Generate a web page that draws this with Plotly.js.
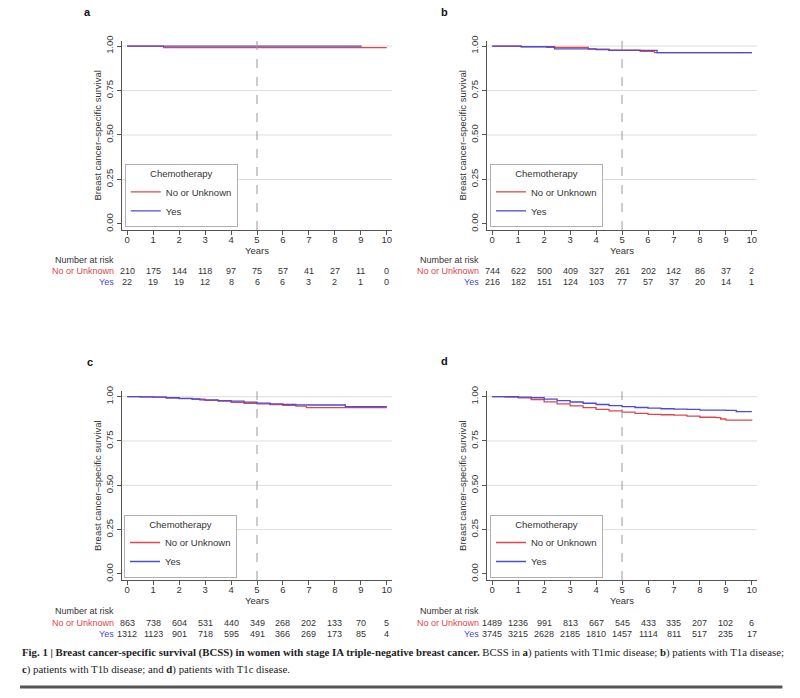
<!DOCTYPE html>
<html>
<head>
<meta charset="utf-8">
<script src="https://cdn.plot.ly/plotly-3.0.1.min.js"></script>
<style>html,body{margin:0;padding:0;background:#fff;}#chart{width:800px;height:698px;}</style>
</head>
<body>
<div id="chart"></div>
<script>
// ---- data ----
const years = [0,1,2,3,4,5,6,7,8,9,10];
const groupNames = ["No or Unknown", "Yes"];

// Kaplan-Meier curves (time, survival)
const aNoT  = [0, 1.4, 10.0];
const aNoS  = [1.0, 0.991, 0.991];
const aYesT = [0, 9.03];
const aYesS = [1.0, 1.0];

const bNoT  = [0, 1.1, 2.1, 3.7, 4.5, 5.7, 6.25, 10.0];
const bNoS  = [1.0, 0.997, 0.992, 0.983, 0.977, 0.970, 0.963, 0.963];
const bYesT = [0, 1.12, 2.4, 4.0, 4.5, 6.35, 10.0];
const bYesS = [1.0, 0.996, 0.984, 0.980, 0.976, 0.963, 0.963];

const cNoT  = [0, 0.5, 1.0, 1.5, 2.0, 2.5, 3.0, 3.5, 4.0, 4.5, 5.0, 5.5, 6.0, 6.5, 6.9, 10.0];
const cNoS  = [1.0, 0.999, 0.997, 0.993, 0.989, 0.986, 0.979, 0.975, 0.968, 0.963, 0.959, 0.955, 0.951, 0.947, 0.938, 0.938];
const cYesT = [0, 0.5, 1.0, 1.5, 2.0, 2.5, 2.8, 3.5, 4.0, 4.5, 5.0, 5.5, 6.0, 6.5, 7.0, 8.4, 10.0];
const cYesS = [1.0, 0.999, 0.997, 0.994, 0.990, 0.987, 0.982, 0.978, 0.975, 0.969, 0.964, 0.960, 0.957, 0.954, 0.953, 0.944, 0.944];

const dNoT  = [0, 0.5, 1.0, 1.5, 2.0, 2.5, 3.0, 3.5, 4.0, 4.5, 5.0, 5.5, 6.0, 6.5, 7.0, 7.5, 8.0, 8.6, 8.8, 9.0, 10.0];
const dNoS  = [1.0, 0.998, 0.993, 0.983, 0.971, 0.960, 0.948, 0.938, 0.928, 0.920, 0.913, 0.906, 0.900, 0.898, 0.896, 0.890, 0.884, 0.882, 0.874, 0.868, 0.867];
const dYesT = [0, 0.5, 1.0, 1.5, 2.0, 2.5, 3.0, 3.5, 4.0, 4.5, 5.0, 5.5, 6.0, 6.5, 7.0, 7.5, 8.0, 9.0, 9.4, 10.0];
const dYesS = [1.0, 1.0, 0.998, 0.994, 0.986, 0.978, 0.970, 0.963, 0.956, 0.950, 0.944, 0.939, 0.935, 0.932, 0.930, 0.928, 0.924, 0.923, 0.916, 0.916];

// Number at risk
const aRiskNo  = [210,175,144,118,97,75,57,41,27,11,0];
const aRiskYes = [22,19,19,12,8,6,6,3,2,1,0];
const bRiskNo  = [744,622,500,409,327,261,202,142,86,37,2];
const bRiskYes = [216,182,151,124,103,77,57,37,20,14,1];
const cRiskNo  = [863,738,604,531,440,349,268,202,133,70,5];
const cRiskYes = [1312,1123,901,718,595,491,366,269,173,85,4];
const dRiskNo  = [1489,1236,991,813,667,545,433,335,207,102,6];
const dRiskYes = [3745,3215,2628,2185,1810,1457,1114,811,517,235,17];

const yTicks = [0, 0.25, 0.5, 0.75, 1.0];
const gridVals = [0.25, 0.5, 0.75, 1.0];

// ---- styling ----
const RED = "#e0474c", BLUE = "#4b4bd4";
const FONT = "Liberation Sans, Arial, sans-serif";
const TXT = "#333333";
const FS = 9.5;
const TFS = 9;

const panels = [
  {lab:"a", ax:"x",  ay:"y",  lg:"legend",  noT:aNoT, noS:aNoS, yT:aYesT, yS:aYesS, rNo:aRiskNo, rYes:aRiskYes,
   xd:[0.1525,0.49], yd:[0.6705,0.9417], lgx:0.156, lgy:0.6748, rows:[0.6275,0.6113,0.5956], labPos:[0.1088,0.9828]},
  {lab:"b", ax:"x2", ay:"y2", lg:"legend2", noT:bNoT, noS:bNoS, yT:bYesT, yS:bYesS, rNo:bRiskNo, rYes:bRiskYes,
   xd:[0.6088,0.9463], yd:[0.6705,0.9417], lgx:0.6125, lgy:0.6748, rows:[0.6275,0.6113,0.5956], labPos:[0.556,0.9828]},
  {lab:"c", ax:"x3", ay:"y3", lg:"legend3", noT:cNoT, noS:cNoS, yT:cYesT, yS:cYesS, rNo:cRiskNo, rYes:cRiskYes,
   xd:[0.1525,0.49], yd:[0.1691,0.4393], lgx:0.155, lgy:0.1724, rows:[0.1240,0.1078,0.0921], labPos:[0.1125,0.4814]},
  {lab:"d", ax:"x4", ay:"y4", lg:"legend4", noT:dNoT, noS:dNoS, yT:dYesT, yS:dYesS, rNo:dRiskNo, rYes:dRiskYes,
   xd:[0.6088,0.9463], yd:[0.1691,0.4393], lgx:0.6125, lgy:0.1724, rows:[0.1240,0.1078,0.0921], labPos:[0.555,0.4828]}
];

const traces = [];
const layout = {
  width: 800, height: 698,
  margin: {l:0, r:0, t:0, b:0},
  paper_bgcolor: "#fff", plot_bgcolor: "#fff",
  font: {family: FONT, size: FS, color: TXT},
  showlegend: true,
  annotations: [], shapes: []
};

panels.forEach((p, i) => {
  const n = i === 0 ? "" : String(i + 1);
  traces.push({
    type: "scatter", mode: "lines", x: p.noT, y: p.noS, name: groupNames[0],
    line: {color: RED, width: 1.3, shape: "hv"}, xaxis: p.ax, yaxis: p.ay, legend: p.lg, hoverinfo: "skip"
  });
  traces.push({
    type: "scatter", mode: "lines", x: p.yT, y: p.yS, name: groupNames[1],
    line: {color: BLUE, width: 1.3, shape: "hv"}, xaxis: p.ax, yaxis: p.ay, legend: p.lg, hoverinfo: "skip"
  });

  layout["xaxis" + n] = {
    domain: p.xd, anchor: p.ay, range: [-0.2, 10.2], tickvals: years,
    showgrid: false, zeroline: false, showline: true, linecolor: "#555", linewidth: 1,
    ticks: "outside", ticklen: 4, tickcolor: "#555", tickfont: {size: FS, color: TXT},
    ticklabelstandoff: -3,
    title: {text: "Years", font: {size: FS, color: TXT}, standoff: 0}, automargin: false, fixedrange: true
  };
  layout["yaxis" + n] = {
    domain: p.yd, anchor: p.ax, range: [-0.034, 1.03], tickvals: yTicks, tickformat: ".2f",
    showgrid: false, zeroline: false, showline: true, linecolor: "#555", linewidth: 1,
    ticks: "outside", ticklen: 4, tickcolor: "#555", tickangle: -90, tickfont: {size: FS, color: TXT},
    title: {text: "Breast cancer–specific survival", font: {size: FS, color: TXT}, standoff: 0}, automargin: false, fixedrange: true
  };

  layout[p.lg] = {
    x: p.lgx, y: p.lgy, xanchor: "left", yanchor: "bottom", xref: "paper", yref: "paper",
    bgcolor: "#fff", bordercolor: "#b0b0b0", borderwidth: 1,
    font: {size: FS, color: TXT, family: FONT},
    title: {text: "Chemotherapy", side: "top center", font: {size: FS, color: TXT}},
    itemwidth: 30, tracegroupgap: 0
  };

  // grid lines
  gridVals.forEach(g => {
    layout.shapes.push({type: "line", xref: p.ax + " domain", yref: p.ay, x0: 0, x1: 1, y0: g, y1: g,
      line: {color: "#dddddd", width: 1}, layer: "below"});
  });
  // 5-year dashed reference
  layout.shapes.push({type: "line", xref: p.ax, yref: p.ay + " domain", x0: 5, x1: 5, y0: 0, y1: 1,
    line: {color: "#999", width: 1, dash: "dash"}});

  // panel label
  layout.annotations.push({text: "<b>" + p.lab + "</b>", xref: "paper", yref: "paper", x: p.labPos[0], y: p.labPos[1],
    xanchor: "center", yanchor: "middle", showarrow: false, font: {size: 11, color: "#111"}});

  // number at risk table
  const labX = -0.026;
  layout.annotations.push({text: "Number at risk", xref: p.ax + " domain", yref: "paper", x: labX, y: p.rows[0],
    xanchor: "right", yanchor: "middle", showarrow: false, borderpad: 0, font: {size: TFS, color: TXT}});
  layout.annotations.push({text: groupNames[0], xref: p.ax + " domain", yref: "paper", x: labX, y: p.rows[1],
    xanchor: "right", yanchor: "middle", showarrow: false, borderpad: 0, font: {size: TFS, color: RED}});
  layout.annotations.push({text: groupNames[1], xref: p.ax + " domain", yref: "paper", x: labX, y: p.rows[2],
    xanchor: "right", yanchor: "middle", showarrow: false, borderpad: 0, font: {size: TFS, color: BLUE}});
  years.forEach((yr, k) => {
    layout.annotations.push({text: String(p.rNo[k]), xref: p.ax, yref: "paper", x: yr, y: p.rows[1],
      xanchor: "center", yanchor: "middle", showarrow: false, borderpad: 0, font: {size: TFS, color: TXT}});
    layout.annotations.push({text: String(p.rYes[k]), xref: p.ax, yref: "paper", x: yr, y: p.rows[2],
      xanchor: "center", yanchor: "middle", showarrow: false, borderpad: 0, font: {size: TFS, color: TXT}});
  });
});

// caption
const SERIF = "Liberation Serif, Times New Roman, serif";
layout.annotations.push({
  text: "<b>Fig. 1 | Breast cancer-specific survival (BCSS) in women with stage IA triple-negative breast cancer.</b> BCSS in <b>a</b>) patients with T1mic disease; <b>b</b>) patients with T1a disease;",
  xref: "paper", yref: "paper", x: 0.025, y: 0.0645, xanchor: "left", yanchor: "middle", showarrow: false,
  font: {family: SERIF, size: 10.8, color: "#222"}
});
layout.annotations.push({
  text: "<b>c</b>) patients with T1b disease; and <b>d</b>) patients with T1c disease.",
  xref: "paper", yref: "paper", x: 0.025, y: 0.0415, xanchor: "left", yanchor: "middle", showarrow: false,
  font: {family: SERIF, size: 10.8, color: "#222"}
});
layout.shapes.push({type: "line", xref: "paper", yref: "paper", x0: 0.025, x1: 0.978, y0: 0.0158, y1: 0.0158,
  line: {color: "#555", width: 3}});

Plotly.newPlot("chart", traces, layout, {staticPlot: true, displayModeBar: false});
</script>
</body>
</html>
